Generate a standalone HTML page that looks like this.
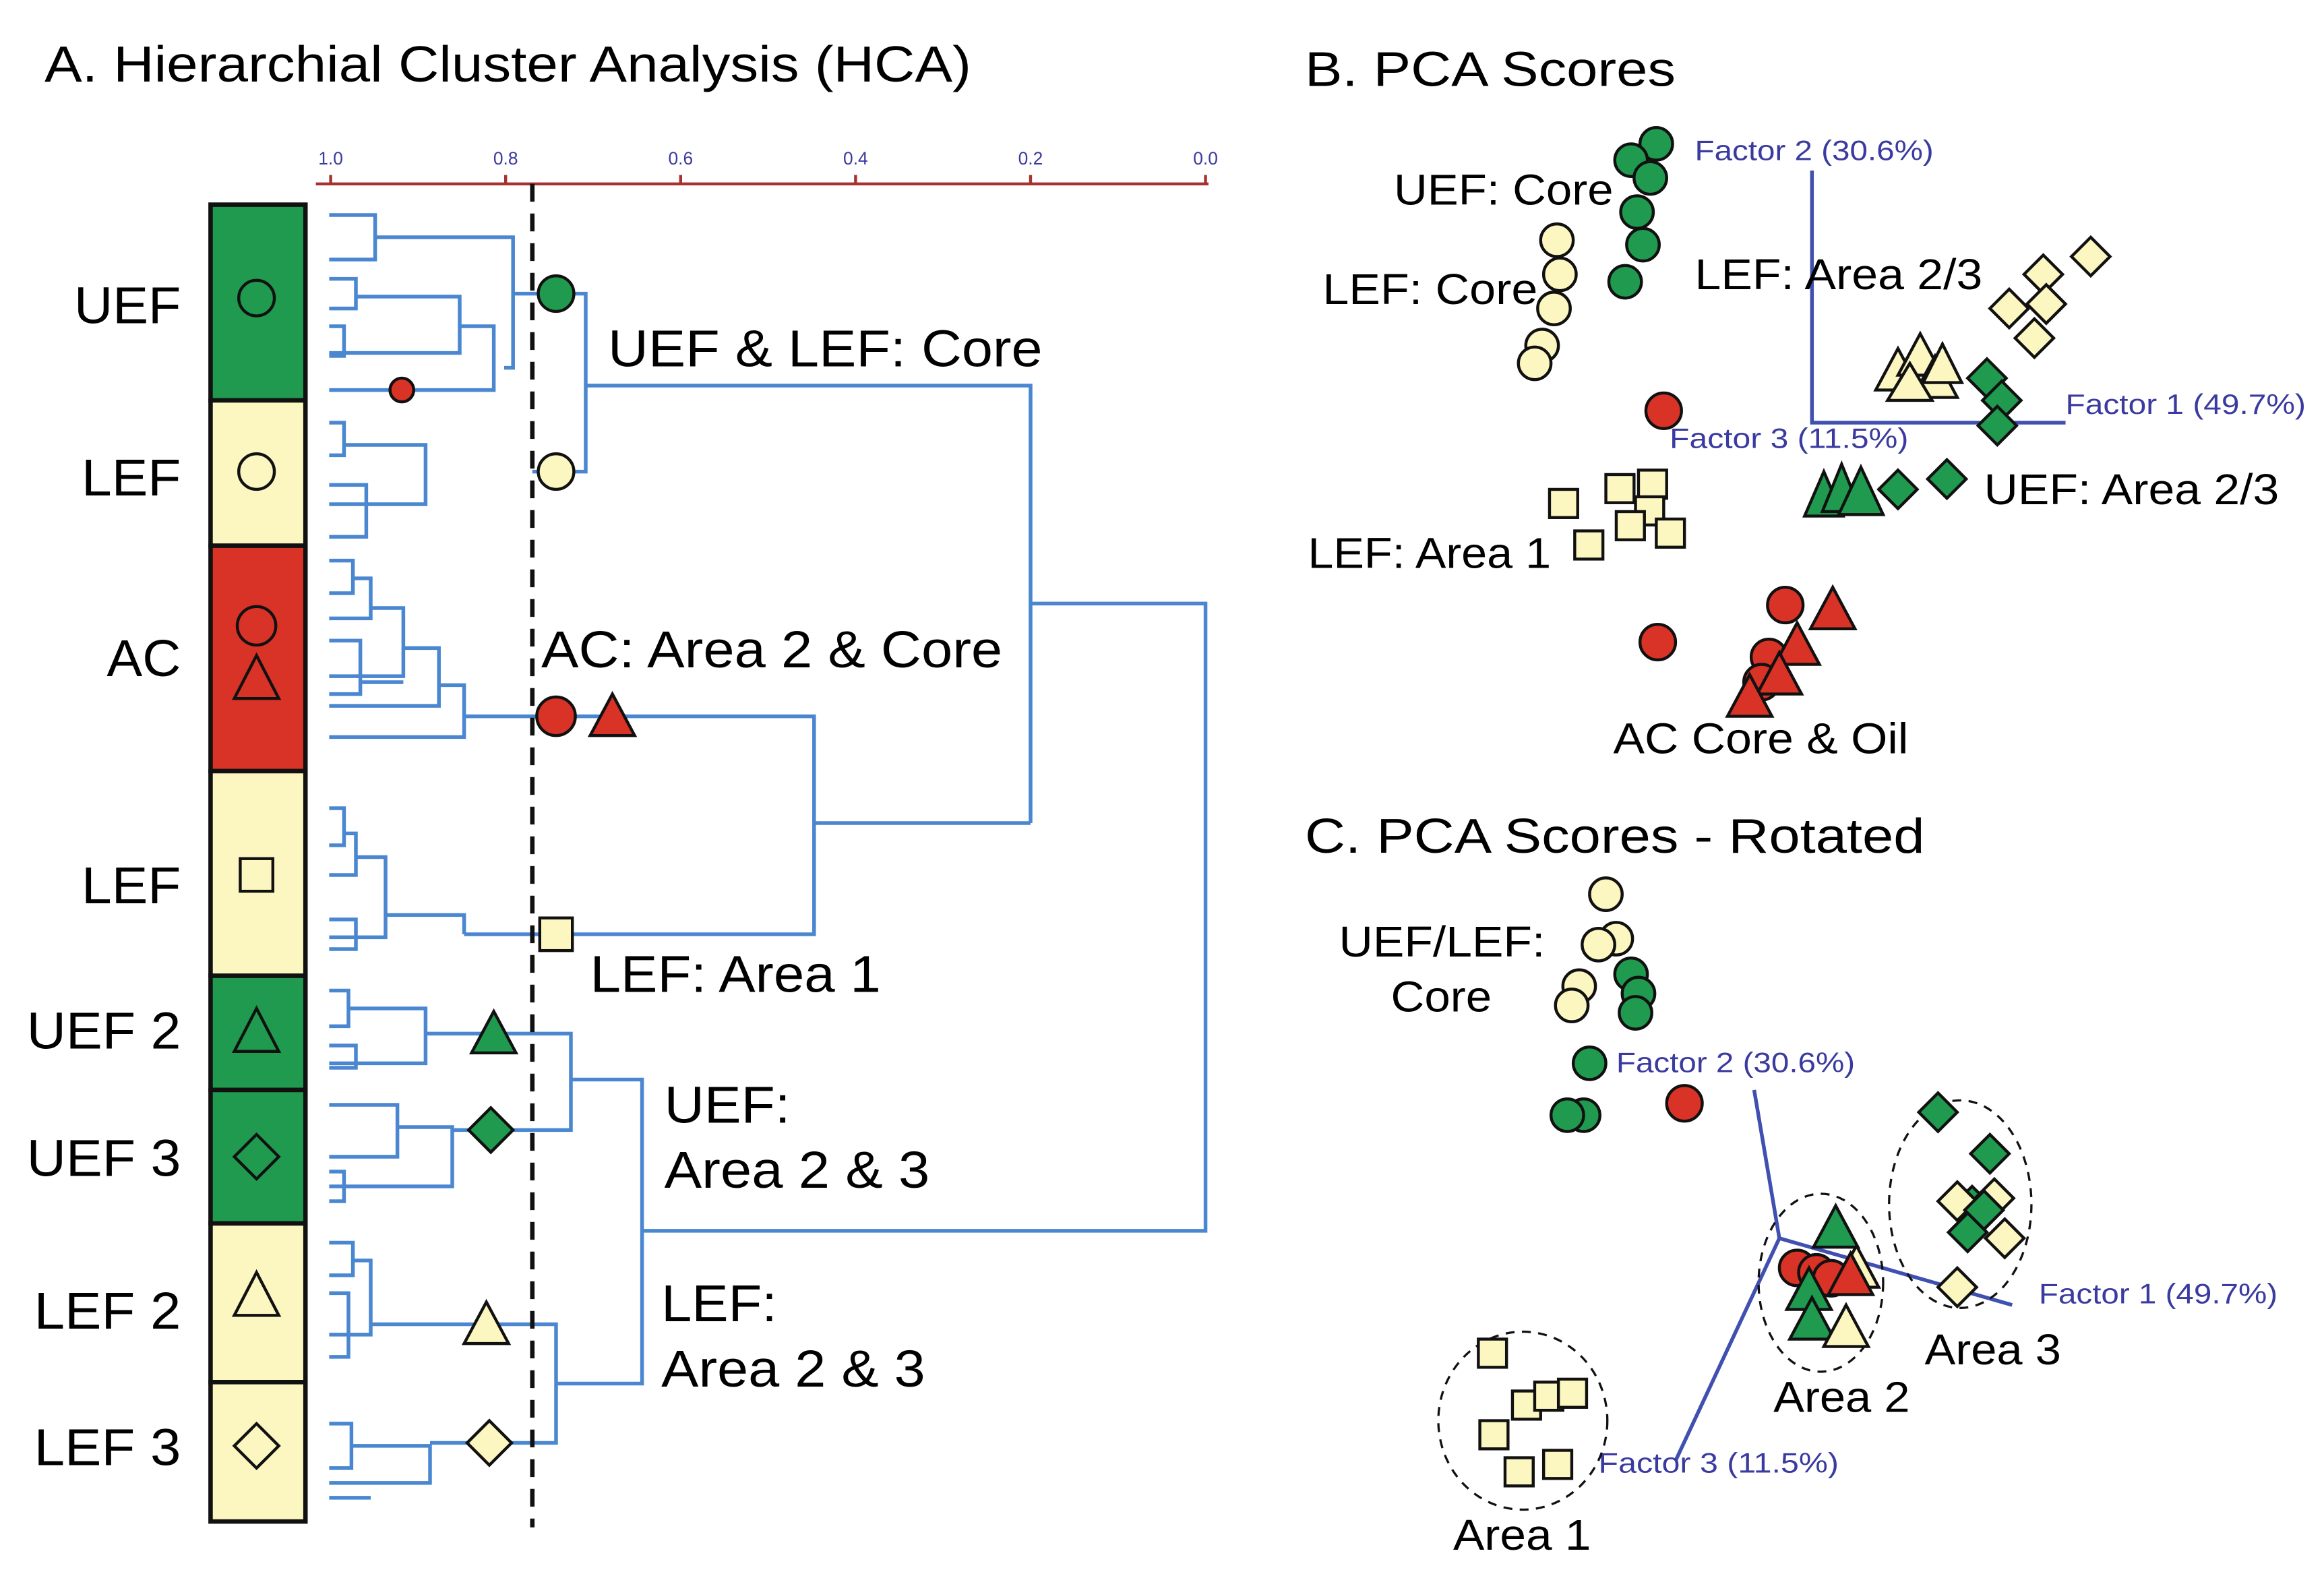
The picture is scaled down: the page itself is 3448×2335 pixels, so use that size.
<!DOCTYPE html>
<html><head><meta charset="utf-8"><style>html,body{margin:0;padding:0;background:#fff}svg{display:block}text{font-family:"Liberation Sans",sans-serif}</style></head><body>
<svg width="3448" height="2335" viewBox="0 0 1567.3 1061.4" xmlns="http://www.w3.org/2000/svg">
<rect width="1568" height="1062" fill="#fff"/>
<text x="30" y="55" font-size="34" textLength="625" lengthAdjust="spacingAndGlyphs">A. Hierarchial Cluster Analysis (HCA)</text>
<!-- bar -->
<g stroke="#111" stroke-width="3">
<rect x="142" y="138" width="64" height="132" fill="#1f9a4f"/>
<rect x="142" y="270" width="64" height="98" fill="#fcf6c0"/>
<rect x="142" y="368" width="64" height="152" fill="#d93226"/>
<rect x="142" y="520" width="64" height="138" fill="#fcf6c0"/>
<rect x="142" y="658" width="64" height="77" fill="#1f9a4f"/>
<rect x="142" y="735" width="64" height="90" fill="#1f9a4f"/>
<rect x="142" y="825" width="64" height="107" fill="#fcf6c0"/>
<rect x="142" y="932" width="64" height="94" fill="#fcf6c0"/>
</g>
<g fill="none" stroke="#111" stroke-width="2">
<circle cx="173" cy="201" r="12"/><circle cx="173" cy="318" r="12"/><circle cx="173" cy="422" r="13"/>
<polygon points="173,442 158,471 188,471"/><rect x="162" y="579" width="22" height="22"/>
<polygon points="173,680 158,709 188,709"/><polygon points="173,765 188,780 173,795 158,780"/>
<polygon points="173,858 158,887 188,887"/><polygon points="173,960 188,975 173,990 158,975"/>
</g>
<g font-size="35" lengthAdjust="spacingAndGlyphs">
<text x="50" y="218" textLength="72" lengthAdjust="spacingAndGlyphs">UEF</text>
<text x="55" y="334" textLength="67" lengthAdjust="spacingAndGlyphs">LEF</text>
<text x="72" y="456" textLength="50" lengthAdjust="spacingAndGlyphs">AC</text>
<text x="55" y="609" textLength="67" lengthAdjust="spacingAndGlyphs">LEF</text>
<text x="18" y="707" textLength="104" lengthAdjust="spacingAndGlyphs">UEF 2</text>
<text x="18" y="793" textLength="104" lengthAdjust="spacingAndGlyphs">UEF 3</text>
<text x="23" y="896" textLength="99" lengthAdjust="spacingAndGlyphs">LEF 2</text>
<text x="23" y="988" textLength="99" lengthAdjust="spacingAndGlyphs">LEF 3</text>
</g>
<!-- axis -->
<line x1="213" y1="124" x2="815" y2="124" stroke="#a83232" stroke-width="2"/>
<g stroke="#a83232" stroke-width="2"><line x1="223" y1="118" x2="223" y2="124"/><line x1="341" y1="118" x2="341" y2="124"/><line x1="459" y1="118" x2="459" y2="124"/><line x1="577" y1="118" x2="577" y2="124"/><line x1="695" y1="118" x2="695" y2="124"/><line x1="813" y1="118" x2="813" y2="124"/></g>
<g font-size="12" fill="#3a3aa0" text-anchor="middle"><text x="223" y="111">1.0</text><text x="341" y="111">0.8</text><text x="459" y="111">0.6</text><text x="577" y="111">0.4</text><text x="695" y="111">0.2</text><text x="813" y="111">0.0</text></g>
<!-- dendrogram -->
<g fill="none" stroke="#4a87d0" stroke-width="2.5">
<path d="M222,145H253V175H222M253,160H346V248H340M222,188H240V208H222M240,200H310V238H222M222,220H232V240H222M310,220H333V258M222,263H333V220M346,198H395V318H359M395,260H695V555M222,285H232V307H222M232,300H287V340H222M222,327H247V362H222M222,378H238V400H222M238,390H250V417H222M250,410H272V456H222M222,432H243V468H222M243,460H272M272,437H296V476H222M296,462H313V497H222M313,483H549V630H313M549,555H695M222,545H232V570H222M232,562H240V590H222M240,578H260V632H222M222,620H240V640H222M260,617H313V630M222,668H235V692H222M235,680H287V717H222M287,697H385V762H305M222,705H240V720H222M222,745H268V780H222M268,760H305V800H222M222,790H232V810H222M385,728H433V933H375M433,830H813V407H695M222,838H238V860H222M238,850H250V900H222M222,872H235V915H222M250,893H375V973H290M222,960H237V990H222M237,975H290V1000H222M222,1010H250"/>
</g>
<line x1="359" y1="124" x2="359" y2="1030" stroke="#111" stroke-width="3" stroke-dasharray="12,8"/>
<g stroke="#111" stroke-width="2">
<circle cx="375" cy="198" r="12" fill="#1f9a4f"/><circle cx="375" cy="318" r="12" fill="#fcf6c0"/>
<circle cx="271" cy="263" r="8" fill="#d93226"/>
<circle cx="375" cy="483" r="13" fill="#d93226"/><polygon points="413,468 398,496 428,496" fill="#d93226"/>
<rect x="364" y="619" width="22" height="22" fill="#fcf6c0"/>
<polygon points="333,682 318,710 348,710" fill="#1f9a4f"/>
<polygon points="331,747 346,762 331,777 316,762" fill="#1f9a4f"/>
<polygon points="328,878 313,906 343,906" fill="#fcf6c0"/>
<polygon points="330,958 345,973 330,988 315,973" fill="#fcf6c0"/>
</g>
<g font-size="35">
<text x="410" y="247" textLength="293" lengthAdjust="spacingAndGlyphs">UEF &amp; LEF: Core</text>
<text x="365" y="450" textLength="311" lengthAdjust="spacingAndGlyphs">AC: Area 2 &amp; Core</text>
<text x="398" y="669" textLength="196" lengthAdjust="spacingAndGlyphs">LEF: Area 1</text>
<text x="448" y="757" textLength="85" lengthAdjust="spacingAndGlyphs">UEF:</text>
<text x="448" y="801" textLength="179" lengthAdjust="spacingAndGlyphs">Area 2 &amp; 3</text>
<text x="446" y="891" textLength="78" lengthAdjust="spacingAndGlyphs">LEF:</text>
<text x="446" y="935" textLength="178" lengthAdjust="spacingAndGlyphs">Area 2 &amp; 3</text>
</g>
<!-- B -->
<text x="880" y="58" font-size="33" textLength="250" lengthAdjust="spacingAndGlyphs">B. PCA Scores</text>
<path d="M1222,115V285H1393" fill="none" stroke="#4050b0" stroke-width="2.5"/>
<g font-size="19" fill="#3a3aa0"><text x="1143" y="108" textLength="161" lengthAdjust="spacingAndGlyphs">Factor 2 (30.6%)</text><text x="1393" y="279" textLength="162" lengthAdjust="spacingAndGlyphs">Factor 1 (49.7%)</text><text x="1126" y="302" textLength="161" lengthAdjust="spacingAndGlyphs">Factor 3 (11.5%)</text></g>
<g stroke="#111" stroke-width="2">
<g fill="#1f9a4f"><circle cx="1117" cy="97" r="11"/><circle cx="1100" cy="108" r="11"/><circle cx="1113" cy="120" r="11"/><circle cx="1104" cy="143" r="11"/><circle cx="1108" cy="165" r="11"/><circle cx="1096" cy="190" r="11"/></g>
<g fill="#fcf6c0"><circle cx="1050" cy="162" r="11"/><circle cx="1052" cy="185" r="11"/><circle cx="1048" cy="208" r="11"/><circle cx="1040" cy="233" r="11"/><circle cx="1035" cy="245" r="11"/></g>
<circle cx="1122" cy="277" r="12" fill="#d93226"/>
<g fill="#fcf6c0"><polygon points="1410,160 1423,173 1410,186 1397,173"/><polygon points="1378,172 1391,185 1378,198 1365,185"/><polygon points="1355,195 1368,208 1355,221 1342,208"/><polygon points="1380,192 1393,205 1380,218 1367,205"/><polygon points="1372,215 1385,228 1372,241 1359,228"/>
<polygon points="1280,235 1265,263 1295,263"/><polygon points="1295,225 1280,253 1310,253"/><polygon points="1305,240 1290,268 1320,268"/><polygon points="1288,245 1273,270 1303,270"/><polygon points="1310,232 1297,258 1323,258"/></g>
<g fill="#1f9a4f"><polygon points="1340,242 1353,255 1340,268 1327,255"/><polygon points="1350,257 1363,270 1350,283 1337,270"/><polygon points="1347,274 1360,287 1347,300 1334,287"/>
<polygon points="1230,318 1217,348 1243,348"/><polygon points="1242,313 1229,345 1255,345"/><polygon points="1255,315 1240,347 1270,347"/>
<polygon points="1280,317 1293,330 1280,343 1267,330"/><polygon points="1313,310 1326,323 1313,336 1300,323"/></g>
<g fill="#fcf6c0"><rect x="1045" y="330" width="19" height="19"/><rect x="1083" y="320" width="19" height="19"/><rect x="1105" y="317" width="19" height="19"/><rect x="1103" y="335" width="19" height="19"/><rect x="1090" y="345" width="19" height="19"/><rect x="1117" y="350" width="19" height="19"/><rect x="1062" y="358" width="19" height="19"/></g>
<g fill="#d93226"><circle cx="1204" cy="408" r="12"/><circle cx="1118" cy="433" r="12"/><circle cx="1193" cy="443" r="12"/><circle cx="1188" cy="460" r="12"/>
<polygon points="1236,396 1221,424 1251,424"/><polygon points="1212,420 1197,448 1227,448"/><polygon points="1200,440 1185,468 1215,468"/><polygon points="1180,455 1165,483 1195,483"/></g>
</g>
<g font-size="29">
<text x="940" y="138" textLength="148" lengthAdjust="spacingAndGlyphs">UEF: Core</text>
<text x="892" y="205" textLength="145" lengthAdjust="spacingAndGlyphs">LEF: Core</text>
<text x="1143" y="195" textLength="194" lengthAdjust="spacingAndGlyphs">LEF: Area 2/3</text>
<text x="1338" y="340" textLength="199" lengthAdjust="spacingAndGlyphs">UEF: Area 2/3</text>
<text x="882" y="383" textLength="164" lengthAdjust="spacingAndGlyphs">LEF: Area 1</text>
<text x="1088" y="508" textLength="199" lengthAdjust="spacingAndGlyphs">AC Core &amp; Oil</text>
</g>
<!-- C -->
<text x="880" y="575" font-size="33" textLength="418" lengthAdjust="spacingAndGlyphs">C. PCA Scores - Rotated</text>
<path d="M1183,735L1200,835L1357,880M1200,835L1130,985" fill="none" stroke="#4050b0" stroke-width="2.5"/>
<g font-size="19" fill="#3a3aa0"><text x="1090" y="723" textLength="161" lengthAdjust="spacingAndGlyphs">Factor 2 (30.6%)</text><text x="1375" y="879" textLength="161" lengthAdjust="spacingAndGlyphs">Factor 1 (49.7%)</text><text x="1078" y="993" textLength="162" lengthAdjust="spacingAndGlyphs">Factor 3 (11.5%)</text></g>
<g fill="none" stroke="#111" stroke-width="1.5" stroke-dasharray="6,5"><ellipse cx="1322" cy="812" rx="48" ry="70"/><ellipse cx="1228" cy="865" rx="42" ry="60"/><ellipse cx="1027" cy="958" rx="57" ry="60"/></g>
<g stroke="#111" stroke-width="2">
<g fill="#fcf6c0"><circle cx="1083" cy="603" r="11"/><circle cx="1090" cy="633" r="11"/><circle cx="1078" cy="637" r="11"/><circle cx="1065" cy="665" r="11"/><circle cx="1060" cy="678" r="11"/></g>
<g fill="#1f9a4f"><circle cx="1100" cy="657" r="11"/><circle cx="1105" cy="670" r="11"/><circle cx="1103" cy="683" r="11"/><circle cx="1072" cy="717" r="11"/><circle cx="1068" cy="752" r="11"/><circle cx="1057" cy="752" r="11"/></g>
<circle cx="1136" cy="744" r="12" fill="#d93226"/>
<g fill="#1f9a4f"><polygon points="1307,737 1320,750 1307,763 1294,750"/><polygon points="1342,765 1355,778 1342,791 1329,778"/><polygon points="1330,800 1343,813 1330,826 1317,813"/></g>
<g fill="#fcf6c0"><polygon points="1320,797 1333,810 1320,823 1307,810"/><polygon points="1352,822 1365,835 1352,848 1339,835"/><polygon points="1320,855 1333,868 1320,881 1307,868"/><polygon points="1345,795 1358,808 1345,821 1332,808"/></g>
<g fill="#1f9a4f"><polygon points="1338,803 1351,816 1338,829 1325,816"/><polygon points="1327,818 1340,831 1327,844 1314,831"/></g>
<g fill="#d93226"><circle cx="1212" cy="855" r="12"/><circle cx="1225" cy="858" r="12"/><circle cx="1235" cy="862" r="12"/></g>
<g fill="#1f9a4f"><polygon points="1238,813 1223,841 1253,841"/><polygon points="1220,855 1205,883 1235,883"/><polygon points="1222,875 1207,903 1237,903"/></g>
<g fill="#fcf6c0"><polygon points="1245,880 1230,908 1260,908"/><polygon points="1252,840 1237,868 1267,868"/></g>
<g fill="#d93226"><polygon points="1248,845 1233,873 1263,873"/></g>
<g fill="#fcf6c0"><rect x="997" y="903" width="19" height="19"/><rect x="1020" y="938" width="19" height="19"/><rect x="1035" y="932" width="19" height="19"/><rect x="1051" y="930" width="19" height="19"/><rect x="998" y="958" width="19" height="19"/><rect x="1015" y="983" width="19" height="19"/><rect x="1041" y="978" width="19" height="19"/></g>
</g>
<g font-size="29">
<text x="903" y="645" textLength="139" lengthAdjust="spacingAndGlyphs">UEF/LEF:</text>
<text x="938" y="682" textLength="68" lengthAdjust="spacingAndGlyphs">Core</text>
<text x="1298" y="920" textLength="92" lengthAdjust="spacingAndGlyphs">Area 3</text>
<text x="1196" y="952" textLength="92" lengthAdjust="spacingAndGlyphs">Area 2</text>
<text x="980" y="1045" textLength="93" lengthAdjust="spacingAndGlyphs">Area 1</text>
</g>
</svg>
</body></html>
